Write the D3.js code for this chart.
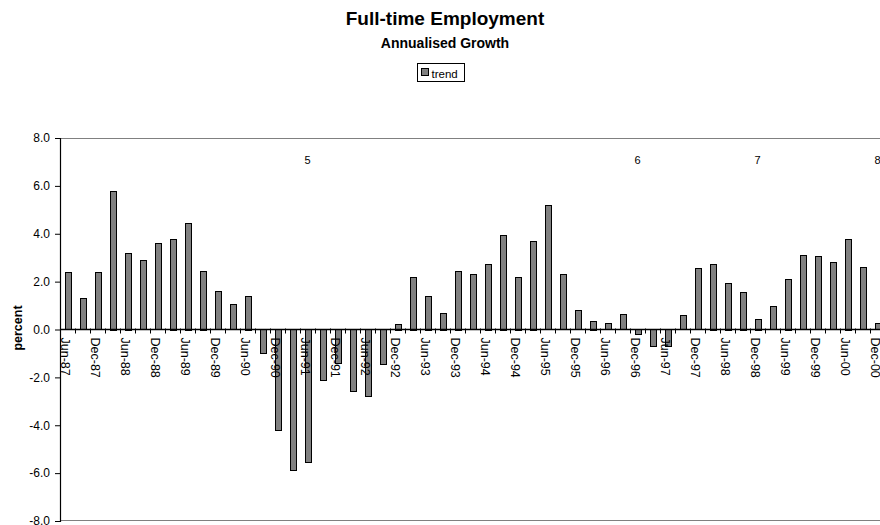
<!DOCTYPE html>
<html>
<head>
<meta charset="utf-8">
<script src="https://cdn.jsdelivr.net/npm/d3@7"></script>
<style>
  body { margin: 0; background: #fff; }
  svg { font-family: "Liberation Sans", Arial, sans-serif; }
</style>
</head>
<body>
<svg id="chart" width="880" height="525"></svg>
<script>
// quarters Jun-87 .. Dec-00
var quarters = ["Jun-87","Sep-87","Dec-87","Mar-88","Jun-88","Sep-88","Dec-88","Mar-89","Jun-89","Sep-89",
  "Dec-89","Mar-90","Jun-90","Sep-90","Dec-90","Mar-91","Jun-91","Sep-91","Dec-91","Mar-92",
  "Jun-92","Sep-92","Dec-92","Mar-93","Jun-93","Sep-93","Dec-93","Mar-94","Jun-94","Sep-94",
  "Dec-94","Mar-95","Jun-95","Sep-95","Dec-95","Mar-96","Jun-96","Sep-96","Dec-96","Mar-97",
  "Jun-97","Sep-97","Dec-97","Mar-98","Jun-98","Sep-98","Dec-98","Mar-99","Jun-99","Sep-99",
  "Dec-99","Mar-00","Jun-00","Sep-00","Dec-00"]

var trend = [2.4, 1.3, 2.4, 5.8, 3.2, 2.9, 3.6, 3.8, 4.45, 2.45,
  1.6, 1.05, 1.4, -1.0, -4.2, -5.9, -5.55, -2.15, -1.4, -2.6,
  -2.8, -1.45, 0.25, 2.2, 1.4, 0.7, 2.45, 2.3, 2.75, 3.95,
  2.2, 3.7, 5.2, 2.3, 0.8, 0.37, 0.26, 0.64, -0.2, -0.7,
  -0.7, 0.6, 2.55, 2.75, 1.95, 1.57, 0.45, 0.97, 2.12, 3.1,
  3.05, 2.8, 3.8, 2.6, 0.27]

var yTicks = [-8, -6, -4, -2, 0, 2, 4, 6, 8]

// little number markers across the top
var markerText = ["5", "6", "7", "8"]
var markerAt = ["Jun-91", "Dec-96", "Dec-98", "Dec-00"]
var markerValue = 7.0

var svg = d3.select("#chart")

var plotLeft = 60, plotTop = 138, plotBottom = 521
var step = 15
var plotRight = plotLeft + step * quarters.length

var x = d3.scaleBand()
  .domain(quarters)
  .range([plotLeft, plotRight])
  .paddingInner(0.6)
  .paddingOuter(0.3)

var y = d3.scaleLinear().domain([-8, 8]).range([plotBottom, plotTop])

// title + subtitle
svg.append("text").attr("x", 445).attr("y", 25).attr("text-anchor", "middle")
  .style("font-size", "19px").style("font-weight", "bold").text("Full-time Employment")
svg.append("text").attr("x", 445).attr("y", 48).attr("text-anchor", "middle")
  .style("font-size", "14px").style("font-weight", "bold").text("Annualised Growth")

// legend
var lg = svg.append("g").attr("transform", "translate(417,63)")
lg.append("rect").attr("x", 0.5).attr("y", 0.5).attr("width", 47).attr("height", 18)
  .attr("fill", "#fff").attr("stroke", "#000")
lg.append("rect").attr("x", 4.5).attr("y", 5.5).attr("width", 7).attr("height", 7)
  .attr("fill", "#808080").attr("stroke", "#000")
lg.append("text").attr("x", 14.5).attr("y", 14.5).style("font-size", "11.5px").text("trend")

// plot border top / bottom (grey)
svg.append("line").attr("x1", plotLeft).attr("x2", plotRight).attr("y1", plotTop + 0.5).attr("y2", plotTop + 0.5)
  .attr("stroke", "#808080")
svg.append("line").attr("x1", plotLeft).attr("x2", plotRight).attr("y1", plotBottom - 0.5).attr("y2", plotBottom - 0.5)
  .attr("stroke", "#808080")

var zeroY = Math.floor(y(0)) + 0.5

// bars
svg.append("g").selectAll("rect").data(trend).join("rect")
  .attr("x", function(d, i) { return Math.round(x(quarters[i])) + 0.5 })
  .attr("y", function(d) { return d >= 0 ? Math.round(y(d)) + 0.5 : zeroY })
  .attr("width", Math.round(x.bandwidth()))
  .attr("height", function(d) { return Math.max(1, Math.round(Math.abs(y(d) - y(0)))) })
  .attr("fill", "#808080")
  .attr("stroke", "#000")
  .attr("stroke-width", 1)

// y axis
var yAxis = d3.axisLeft(y).tickValues(yTicks).tickSize(5).tickPadding(5)
var gy = svg.append("g").attr("transform", "translate(" + plotLeft + ",0)").call(yAxis)
gy.select(".domain").attr("stroke", "#000").attr("stroke-width", 1.2)
gy.selectAll("line").attr("stroke", "#000")
gy.selectAll("text").style("font-size", "12px").attr("fill", "#000")
  .text(function(d) { return d.toFixed(1) })

// x axis on the zero line, ticks between categories
svg.append("line").attr("x1", plotLeft).attr("x2", plotRight).attr("y1", zeroY).attr("y2", zeroY)
  .attr("stroke", "#000").attr("stroke-width", 1.5)
svg.append("g").selectAll("line").data(d3.range(quarters.length + 1)).join("line")
  .attr("x1", function(i) { return plotLeft + i * step + 0.5 })
  .attr("x2", function(i) { return plotLeft + i * step + 0.5 })
  .attr("y1", zeroY - 1).attr("y2", zeroY + 4)
  .attr("stroke", "#000")

// rotated category labels, every second quarter
var labelQuarters = quarters.filter(function(q, i) { return i % 2 === 0 })
svg.append("g").selectAll("text").data(labelQuarters).join("text")
  .attr("transform", function(q) {
    return "translate(" + (x(q) + x.bandwidth() / 2 - 6.5) + "," + (zeroY + 8) + ") rotate(90)"
  })
  .style("font-size", "12.5px")
  .attr("fill", "#000")
  .text(function(q) { return q })

// percent label
svg.append("text").attr("transform", "translate(22,328) rotate(-90)")
  .attr("text-anchor", "middle").style("font-size", "12.5px").style("font-weight", "bold")
  .text("percent")

// top markers
svg.append("g").selectAll("text").data(markerText).join("text")
  .attr("x", function(t, i) { return x(markerAt[i]) + x.bandwidth() / 2 })
  .attr("y", y(markerValue) + 2)
  .attr("text-anchor", "middle")
  .style("font-size", "11px")
  .text(function(t) { return t })
</script>
</body>
</html>
